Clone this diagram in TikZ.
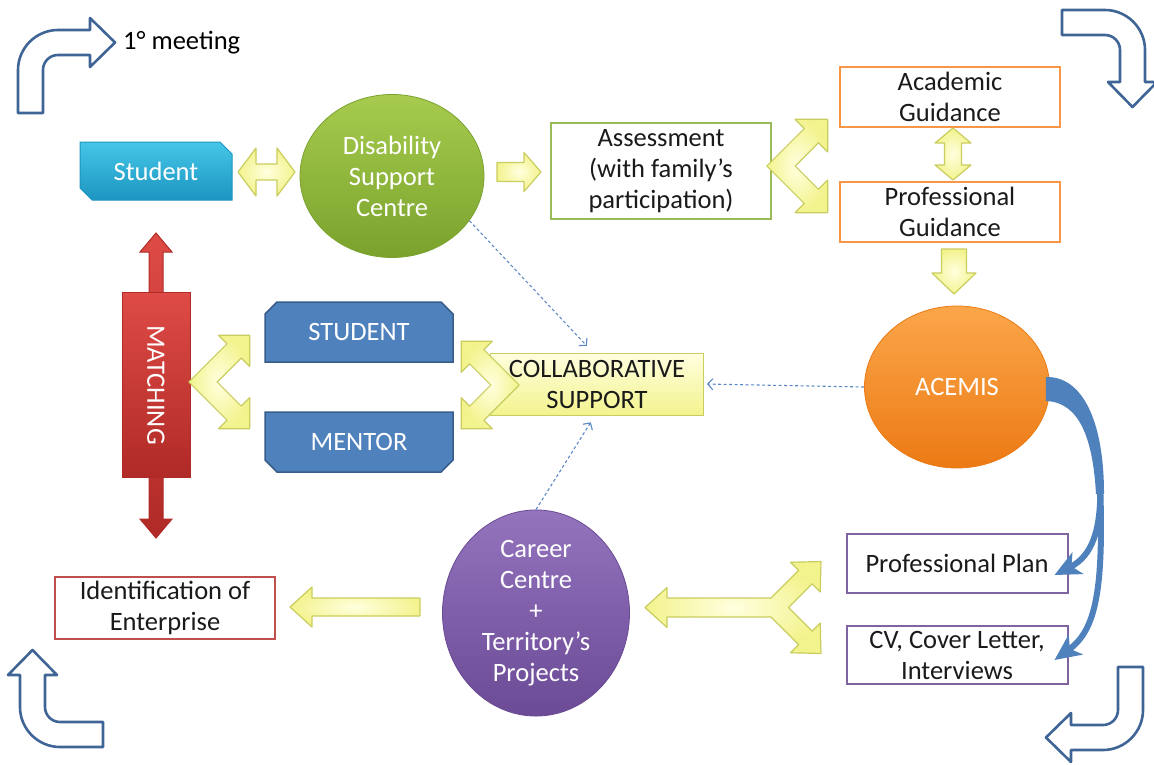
\documentclass[tikz,border=0pt]{standalone}
\usepackage{fontspec}
\setmainfont{Carlito}
\usetikzlibrary{shapes.geometric,shapes.misc,arrows.meta,positioning}

\definecolor{cyanA}{HTML}{45C6E8}
\definecolor{cyanB}{HTML}{1C95C0}
\definecolor{greenA}{HTML}{A6CB4E}
\definecolor{greenB}{HTML}{7AA22C}
\definecolor{greenE}{HTML}{9BBB59}
\definecolor{orangeA}{HTML}{FBA64A}
\definecolor{orangeB}{HTML}{EC7A14}
\definecolor{orangeE}{HTML}{F79646}
\definecolor{purpA}{HTML}{9474BD}
\definecolor{purpB}{HTML}{6B4A96}
\definecolor{purpE}{HTML}{8064A2}
\definecolor{redA}{HTML}{DE4B46}
\definecolor{redB}{HTML}{B02A27}
\definecolor{redE}{HTML}{C0504D}
\definecolor{blueA}{HTML}{4F81BD}
\definecolor{blueE}{HTML}{385D8A}
\definecolor{navy}{HTML}{3F6496}
\definecolor{yin}{HTML}{FFFFE0}
\definecolor{yout}{HTML}{F3F38E}
\definecolor{yedge}{HTML}{C9CD5E}
\definecolor{txt}{HTML}{1A1A1A}
\definecolor{dotblue}{HTML}{5C88C6}

% block arrow outlines, drawn along +x from the origin
% #1 length, #2 shaft half width, #3 head half width, #4 head length
\newcommand{\sarrowpath}[4]{(0,-#2) -- ({#1-#4},-#2) -- ({#1-#4},-#3) -- (#1,0) -- ({#1-#4},#3) -- ({#1-#4},#2) -- (0,#2) -- cycle}
\newcommand{\darrowpath}[4]{(0,0) -- (#4,-#3) -- (#4,-#2) -- ({#1-#4},-#2) -- ({#1-#4},-#3) -- (#1,0) -- ({#1-#4},#3) -- ({#1-#4},#2) -- (#4,#2) -- (#4,#3) -- cycle}
% V shaped fork, apex at the origin, arms at +-45 deg
% #1 arm length, #2 arm width, #3 head half width, #4 head length
\newcommand{\forkpath}[4]{({-0.7071*#2},0)
 -- ({0.7071*(#1-#4-#2/2)},{0.7071*(#1-#4+#2/2)})
 -- ({0.7071*(#1-#4-#3)},{0.7071*(#1-#4+#3)})
 -- ({0.7071*#1},{0.7071*#1})
 -- ({0.7071*(#1-#4+#3)},{0.7071*(#1-#4-#3)})
 -- ({0.7071*(#1-#4+#2/2)},{0.7071*(#1-#4-#2/2)})
 -- ({0.7071*#2},0)
 -- ({0.7071*(#1-#4+#2/2)},{-0.7071*(#1-#4-#2/2)})
 -- ({0.7071*(#1-#4+#3)},{-0.7071*(#1-#4-#3)})
 -- ({0.7071*#1},{-0.7071*#1})
 -- ({0.7071*(#1-#4-#3)},{-0.7071*(#1-#4+#3)})
 -- ({0.7071*(#1-#4-#2/2)},{-0.7071*(#1-#4+#2/2)})
 -- cycle}
% same fork with a shaft to the left: #5 shaft length, #6 head half width, #7 head length
\newcommand{\triforkpath}[7]{({-0.2071*#2},{#2/2})
 -- ({0.7071*(#1-#4-#2/2)},{0.7071*(#1-#4+#2/2)})
 -- ({0.7071*(#1-#4-#3)},{0.7071*(#1-#4+#3)})
 -- ({0.7071*#1},{0.7071*#1})
 -- ({0.7071*(#1-#4+#3)},{0.7071*(#1-#4-#3)})
 -- ({0.7071*(#1-#4+#2/2)},{0.7071*(#1-#4-#2/2)})
 -- ({0.7071*#2},0)
 -- ({0.7071*(#1-#4+#2/2)},{-0.7071*(#1-#4-#2/2)})
 -- ({0.7071*(#1-#4+#3)},{-0.7071*(#1-#4-#3)})
 -- ({0.7071*#1},{-0.7071*#1})
 -- ({0.7071*(#1-#4-#3)},{-0.7071*(#1-#4+#3)})
 -- ({0.7071*(#1-#4-#2/2)},{-0.7071*(#1-#4+#2/2)})
 -- ({-0.2071*#2},{-#2/2})
 -- ({-#5+#7},{-#2/2}) -- ({-#5+#7},{-#6}) -- ({-#5},0) -- ({-#5+#7},{#6}) -- ({-#5+#7},{#2/2})
 -- cycle}
% bent arrow, tail down, head to the right
\newcommand{\bentpath}{(0,83) -- (0,40) .. controls (0,18) and (18,0) .. (40,0) -- (72,0) -- (72,-12) -- (97,12.5) -- (72,37) -- (72,25) -- (40,25) .. controls (31.7,25) and (25,31.7) .. (25,40) -- (25,83) -- cycle}

\begin{document}
\begin{tikzpicture}[x=1pt, y=-1pt,
    every node/.style={font=\fontsize{26.5}{31}\selectfont, align=center, inner sep=0pt},
    gbox/.style={draw, line width=2pt, fill=white, text=txt, minimum width=220pt, minimum height=60pt},
    blob/.style={ellipse, draw, line width=0.8pt, text=white},
    snip/.style={chamfered rectangle, chamfered rectangle sep=6pt, draw=blueE, line width=1.5pt, fill=blueA, text=white, minimum width=188pt, minimum height=60pt},
    yarrow/.style={draw=yedge, line width=1.2pt, line join=round, inner color=yin, outer color=yout},
    bent/.style={draw=navy, line width=2.6pt, line join=round, fill=white},
    dotarrow/.style={draw=dotblue, line width=1.1pt, dash pattern=on 3pt off 2.5pt, -{Straight Barb[length=5pt,width=11pt]}},
    flow/.style={draw=blueA, line width=6pt, -{Stealth[length=26pt,width=24pt,inset=7pt]}}]
    \useasboundingbox (0,0) rectangle (1154,764);

    % Corner arrows
    \path[bent, shift={(18,30)}] \bentpath;
    \path[bent, shift={(1145,10)}, rotate=-90] \bentpath;
    \path[bent, shift={(1143,750)}, rotate=180] \bentpath;
    \path[bent, shift={(20,747)}, rotate=90] \bentpath;
    \node[anchor=west, text=black] (meet) at (123,43) {1° meeting};

    % First row
    \node[chamfered rectangle, chamfered rectangle corners={north east, south west}, chamfered rectangle sep=6pt,
          draw=cyanB, line width=1pt, top color=cyanA, bottom color=cyanB, text=white,
          minimum width=152pt, minimum height=58pt] (stud) at (156,171) {Student};
    \node[blob, draw=greenB, top color=greenA, bottom color=greenB, minimum width=184pt, minimum height=163pt] (dsc) at (392,176) {Disability\\Support\\Centre};
    \node[gbox, draw=greenE, minimum height=96pt] (assess) at (661,171) {Assessment\\(with family's\\participation)};
    \node[gbox, draw=orangeE] (acad) at (950,97) {Academic\\Guidance};
    \node[gbox, draw=orangeE, below of=acad, node distance=115pt] (profg) {Professional\\Guidance};
    \node[blob, draw=orangeB, top color=orangeA, bottom color=orangeB, minimum width=185pt, minimum height=162pt] (acemis) at (957,387) {ACEMIS};

    \path[yarrow, shift={(238,172)}] \darrowpath{57}{8}{24}{18};
    \path[yarrow, shift={(497,172)}] \sarrowpath{44}{9.5}{19.5}{17};
    \path[yarrow, shift={(781,166)}] \forkpath{66}{20}{23}{23};
    \path[yarrow, shift={(953,180)}, rotate=90] \darrowpath{52}{8.5}{18}{15};
    \path[yarrow, shift={(954,249)}, rotate=-90] \sarrowpath{45}{12.5}{22}{21};

    % Matching
    \path[draw=redB, line width=1pt, top color=redA, bottom color=redB, shift={(156,538)}, rotate=90] \darrowpath{305}{7}{16}{19};
    \node[rotate=-90, draw=redB, line width=1pt, top color=redA, bottom color=redB, text=white,
          minimum width=185pt, minimum height=68pt] (match) at (156,385) {MATCHING};
    \node[snip, chamfered rectangle corners={north west, north east}] (sstud) at (359,332) {STUDENT};
    \node[snip, chamfered rectangle corners={south west, south east}, below of=sstud, node distance=110pt] (mentor) {MENTOR};
    \path[yarrow, shift={(203,382)}] \forkpath{66}{20}{22}{22};

    % Collaborative support
    \node[draw=yedge, line width=1pt, top color=yin, bottom color=yout, text=txt,
          minimum width=213pt, minimum height=62pt] (collab) at (597,384) {COLLABORATIVE\\SUPPORT};
    \path[yarrow, shift={(505,385)}, xscale=-1] \forkpath{62}{20}{22}{22};

    % Bottom row
    \node[blob, draw=purpB, top color=purpA, bottom color=purpB, minimum width=187pt, minimum height=172pt] (career) at (536,613) {Career\\Centre\\+\\Territory's\\Projects};
    \node[gbox, draw=redE, minimum height=62pt] (ident) at (165,608) {Identification of\\Enterprise};
    \node[gbox, draw=purpE, minimum width=221pt, minimum height=59pt] (pplan) at (957,563) {Professional Plan};
    \node[gbox, draw=purpE, minimum width=221pt, minimum height=58pt] (cv) at (957,655) {CV, Cover Letter,\\Interviews};
    \path[yarrow, shift={(420,607)}, rotate=180] \sarrowpath{130}{9}{20}{22};
    \path[yarrow, shift={(775,607.5)}] \triforkpath{65}{19}{21}{22}{130}{20}{22};

    % ACEMIS outputs
    \coordinate (split) at (1100,480);
    \fill[blueA] ([xshift=-4pt,yshift=10pt]acemis.east) .. controls (1082,376) and (1104,420) .. (1104,494)
        -- (1096,494) .. controls (1093,440) and (1080,402) .. ([xshift=-4pt,yshift=-14pt]acemis.east) -- cycle;
    \draw[flow] (split) .. controls (1102,530) and (1092,556) .. ([xshift=-14pt,yshift=-12pt]pplan.east);
    \draw[flow] (split) .. controls (1104,590) and (1096,630) .. ([xshift=-14pt,yshift=-5pt]cv.east);

    % Dotted links
    \draw[dotarrow, shorten >=9pt] (dsc.-30) -- ([xshift=-4pt]collab.north);
    \draw[dotarrow, shorten >=3pt] (acemis.west) -- (collab.east);
    \draw[dotarrow, shorten >=8pt] (career.north) -- ([xshift=-2pt]collab.south);
\end{tikzpicture}
\end{document}
